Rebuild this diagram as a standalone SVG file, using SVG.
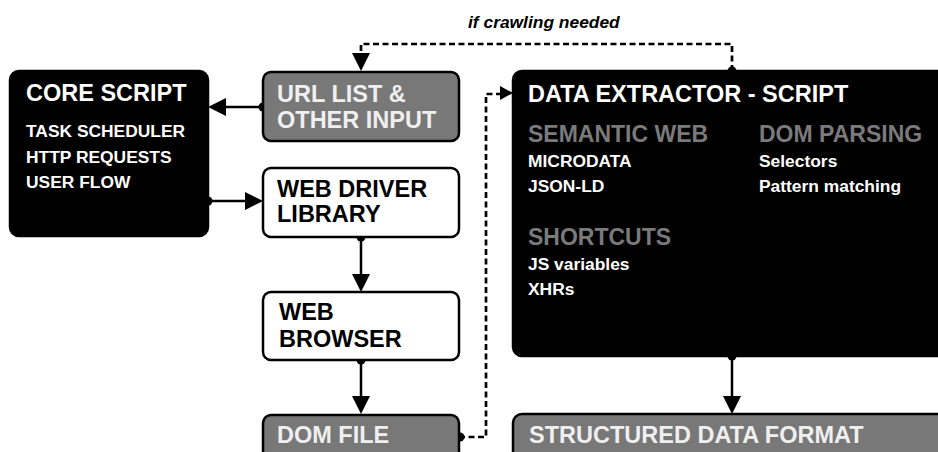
<svg xmlns="http://www.w3.org/2000/svg" width="938" height="452" viewBox="0 0 938 452">
<defs>
<style>
text{font-family:"Liberation Sans",Arial,sans-serif;font-weight:bold}
.t{font-size:23.5px}
.h{font-size:23px;fill:#7a7a7a}
.s{font-size:17.4px}
.w{fill:#fff}
.lw{fill:#efefef}
.k{fill:#000}
.blk{fill:#000;stroke:#000;stroke-width:2.5}
.gry{fill:#787878;stroke:#000;stroke-width:2.5}
.wht{fill:#fff;stroke:#000;stroke-width:2.5}
.c{fill:none;stroke:#000;stroke-width:2.5}
.d{fill:none;stroke:#000;stroke-width:2.7;stroke-dasharray:6 3.5}
</style>
</defs>
<g id="connectors">
<path class="c" d="M263,107 H226"/>
<path d="M226,98 L208,107 L226,116 Z" class="k"/>
<circle cx="263" cy="107" r="4.5" class="k"/>
<path class="c" d="M208,201 H246"/>
<path d="M245,192 L263,201 L245,210 Z" class="k"/>
<circle cx="208" cy="201" r="4.5" class="k"/>
<path class="c" d="M361,237 V275"/>
<path d="M352,274 L361,292 L370,274 Z" class="k"/>
<circle cx="361" cy="237" r="4.5" class="k"/>
<path class="c" d="M361,360 V397"/>
<path d="M352,396 L361,414 L370,396 Z" class="k"/>
<circle cx="361" cy="360" r="4.5" class="k"/>
<path class="c" d="M732,356 V397"/>
<path d="M723,396 L732,414 L741,396 Z" class="k"/>
<circle cx="732" cy="356" r="4.5" class="k"/>
<path class="d" d="M459,437 H486 V94 H500"/>
<path d="M500,86 L513,93 L500,100 Z" class="k"/>
<circle cx="460" cy="437" r="4.5" class="k"/>
<path class="d" d="M732,71 V44 H361 V55"/>
<path d="M352,53 L361,71 L370,53 Z" class="k"/>
<circle cx="732" cy="71" r="4.5" class="k"/>
<text x="468" y="28" class="s k" font-style="italic">if crawling needed</text>
</g>
<g id="core-script">
<rect x="10" y="71" width="198" height="165" rx="9" class="blk"/>
<text x="26" y="101" class="t w">CORE SCRIPT</text>
<text x="26" y="137" class="s w">TASK SCHEDULER</text>
<text x="26" y="163" class="s w">HTTP REQUESTS</text>
<text x="26" y="188" class="s w">USER FLOW</text>
</g>
<g id="url-list">
<rect x="263" y="72" width="196" height="69" rx="8" class="gry"/>
<text x="277" y="102" class="t lw">URL LIST &amp;</text>
<text x="277" y="128" class="t lw">OTHER INPUT</text>
</g>
<g id="web-driver">
<rect x="263" y="168" width="196" height="69" rx="8" class="wht"/>
<text x="277" y="197" class="t k">WEB DRIVER</text>
<text x="277" y="222" class="t k">LIBRARY</text>
</g>
<g id="web-browser">
<rect x="263" y="292" width="196" height="68" rx="8" class="wht"/>
<text x="279" y="320" class="t k">WEB</text>
<text x="279" y="347" class="t k">BROWSER</text>
</g>
<g id="dom-file">
<rect x="263" y="415" width="196" height="60" rx="8" class="gry"/>
<text x="277" y="443" class="t lw">DOM FILE</text>
</g>
<g id="data-extractor">
<rect x="513" y="71" width="440" height="285" rx="9" class="blk"/>
<text x="528" y="102" class="t w">DATA EXTRACTOR - SCRIPT</text>
<text x="528" y="142" class="h">SEMANTIC WEB</text>
<text x="528" y="167" class="s w">MICRODATA</text>
<text x="528" y="192" class="s w">JSON-LD</text>
<text x="759" y="142" class="h">DOM PARSING</text>
<text x="759" y="167" class="s w">Selectors</text>
<text x="759" y="192" class="s w">Pattern matching</text>
<text x="528" y="245" class="h">SHORTCUTS</text>
<text x="528" y="270" class="s w">JS variables</text>
<text x="528" y="295" class="s w">XHRs</text>
</g>
<g id="structured-data">
<rect x="513" y="414" width="440" height="60" rx="9" class="gry"/>
<text x="529" y="443" class="t lw">STRUCTURED DATA FORMAT</text>
</g>
</svg>
